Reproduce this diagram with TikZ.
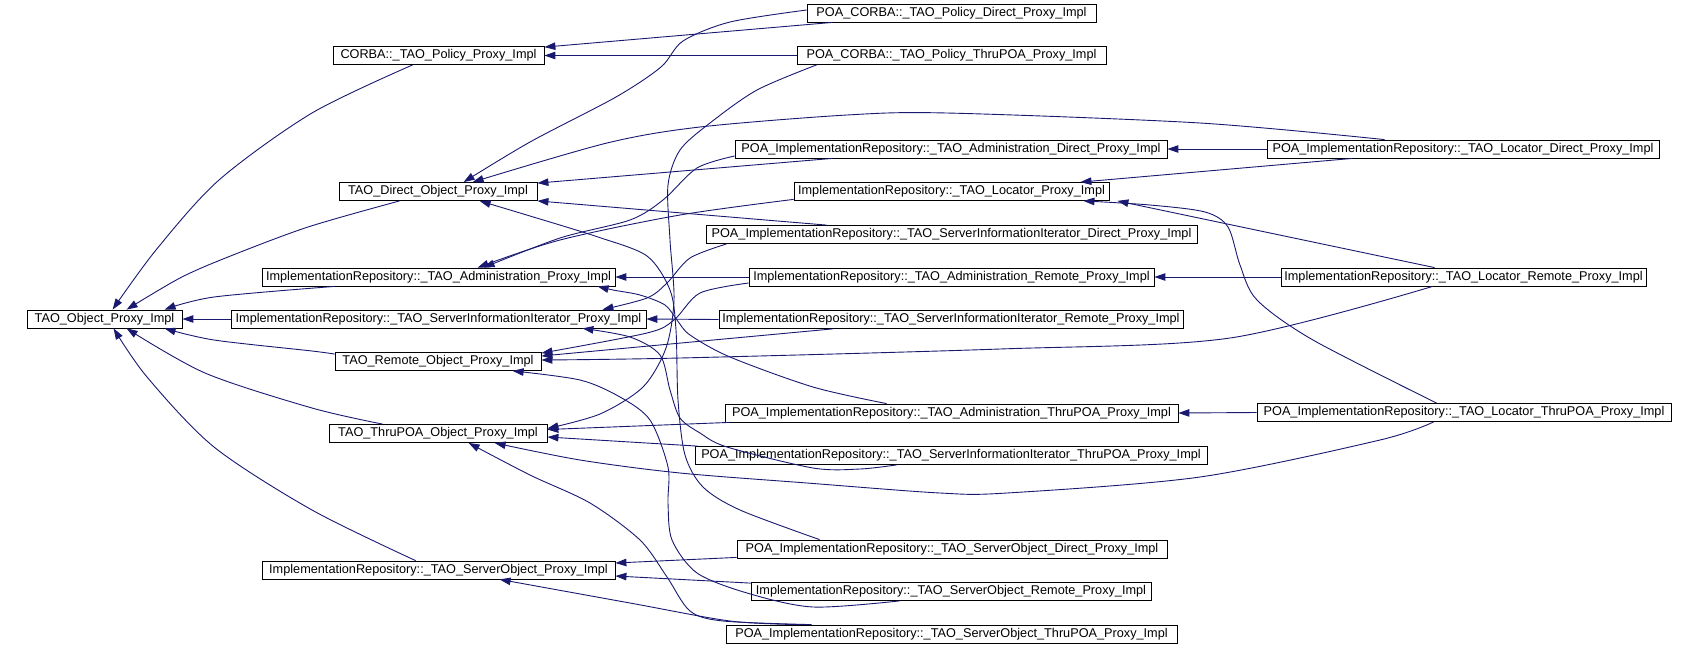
\documentclass[tikz,border=0pt]{standalone}
\usepackage{fontspec}
\setmainfont{Liberation Sans}
\usetikzlibrary{calc,arrows.meta}
\definecolor{edgeblue}{RGB}{25,25,112}
\tikzset{
  box/.style={draw=black, line width=0.8pt, minimum height=18, inner sep=0pt, fill=white,
    font=\fontsize{12.7}{14}\selectfont},
  edge/.style={draw=edgeblue, line width=0.9pt, -{Triangle[length=11pt,width=7.5pt]}},
}
\begin{document}
\begin{tikzpicture}[x=1pt,y=-1pt]
\useasboundingbox (0,0) rectangle (1694,646);
% nodes
\node[box,minimum width=155] (obj) at (104.5,319) {TAO\_Object\_Proxy\_Impl};
\node[box,minimum width=211] (corba) at (438.5,55.5) {CORBA::\_TAO\_Policy\_Proxy\_Impl};
\node[box,minimum width=198] (direct) at (438,191.5) {TAO\_Direct\_Object\_Proxy\_Impl};
\node[box,minimum width=353] (admin) at (438.5,277) {ImplementationRepository::\_TAO\_Administration\_Proxy\_Impl};
\node[box,minimum width=415] (sii) at (438.5,319) {ImplementationRepository::\_TAO\_ServerInformationIterator\_Proxy\_Impl};
\node[box,minimum width=206] (remote) at (438,361.5) {TAO\_Remote\_Object\_Proxy\_Impl};
\node[box,minimum width=218] (thru) at (438,433.5) {TAO\_ThruPOA\_Object\_Proxy\_Impl};
\node[box,minimum width=353] (so) at (438.5,570) {ImplementationRepository::\_TAO\_ServerObject\_Proxy\_Impl};
\node[box,minimum width=289] (pdirect) at (951.5,13) {POA\_CORBA::\_TAO\_Policy\_Direct\_Proxy\_Impl};
\node[box,minimum width=309] (pthru) at (951.5,55.5) {POA\_CORBA::\_TAO\_Policy\_ThruPOA\_Proxy\_Impl};
\node[box,minimum width=432] (adirect) at (951,149) {POA\_ImplementationRepository::\_TAO\_Administration\_Direct\_Proxy\_Impl};
\node[box,minimum width=315] (loc) at (951.5,191.5) {ImplementationRepository::\_TAO\_Locator\_Proxy\_Impl};
\node[box,minimum width=491] (siidirect) at (951.5,234.5) {POA\_ImplementationRepository::\_TAO\_ServerInformationIterator\_Direct\_Proxy\_Impl};
\node[box,minimum width=405] (aremote) at (951.5,277) {ImplementationRepository::\_TAO\_Administration\_Remote\_Proxy\_Impl};
\node[box,minimum width=464] (siiremote) at (951,319.5) {ImplementationRepository::\_TAO\_ServerInformationIterator\_Remote\_Proxy\_Impl};
\node[box,minimum width=453] (athru) at (951.5,413) {POA\_ImplementationRepository::\_TAO\_Administration\_ThruPOA\_Proxy\_Impl};
\node[box,minimum width=512] (siithru) at (951,455.5) {POA\_ImplementationRepository::\_TAO\_ServerInformationIterator\_ThruPOA\_Proxy\_Impl};
\node[box,minimum width=430] (sodirect) at (952,549) {POA\_ImplementationRepository::\_TAO\_ServerObject\_Direct\_Proxy\_Impl};
\node[box,minimum width=400] (soremote) at (951,591.5) {ImplementationRepository::\_TAO\_ServerObject\_Remote\_Proxy\_Impl};
\node[box,minimum width=451] (sothru) at (951.5,634) {POA\_ImplementationRepository::\_TAO\_ServerObject\_ThruPOA\_Proxy\_Impl};
\node[box,minimum width=392] (ldirect) at (1463,149) {POA\_ImplementationRepository::\_TAO\_Locator\_Direct\_Proxy\_Impl};
\node[box,minimum width=365] (lremote) at (1463.5,277) {ImplementationRepository::\_TAO\_Locator\_Remote\_Proxy\_Impl};
\node[box,minimum width=414] (lthru) at (1464,412.5) {POA\_ImplementationRepository::\_TAO\_Locator\_ThruPOA\_Proxy\_Impl};
% edges
\draw[edge] plot[smooth] coordinates {($(corba.south west)+(80,0)$) (312,113) (219,180) (156,250) ($(obj.north west)+(86,0)$)};
\draw[edge] plot[smooth] coordinates {($(direct.south west)+(61,0)$) (308,227) (228,257) (180,278) ($(obj.north west)+(100,0)$)};
\draw[edge] plot[smooth] coordinates {($(admin.south west)+(73,0)$) (214,297) ($(obj.north west)+(138,0)$)};
\draw[edge] (sii.west) -- (obj.east);
\draw[edge] plot[smooth] coordinates {($(remote.north west)+(0,2)$) (312,351) (214,340) ($(obj.south west)+(138,0)$)};
\draw[edge] plot[smooth] coordinates {($(thru.north west)+(54,0)$) (312,408) (205,373) ($(obj.south west)+(100,0)$)};
\draw[edge] plot[smooth] coordinates {($(so.north west)+(154,0)$) (312,510) (214,447) (147,377) ($(obj.south west)+(87,0)$)};
\draw[edge] ($(pdirect.south west)+(26,0)$) -- ($(corba.north east)+(0,1)$);
\draw[edge] (pthru.west) -- (corba.east);
\draw[edge] plot[smooth] coordinates {($(pdirect.west)+(0,-3)$) (730,22) (683,41) (661,67) (616,97) (530,142) ($(direct.north west)+(125,0)$)};
\draw[edge] plot[smooth] coordinates {($(pthru.south west)+(20,0)$) (757,90) (710,123) (680,150) (668,185) (670,240) (674,300) (666,348) (643,387) (600,414) ($(thru.east)+(0,-5)$)};
\draw[edge] ($(adirect.south west)+(98,0)$) -- ($(direct.north east)+(0,1)$);
\draw[edge] plot[smooth] coordinates {($(adirect.west)+(0,7)$) (697,168) (663,200) (630,220) (560,238) ($(admin.north west)+(222,0)$)};
\draw[edge] plot[smooth] coordinates {($(loc.south west)+(0,-1.5)$) (680,215) (560,240) ($(admin.north west)+(216,0)$)};
\draw[edge] plot[smooth] coordinates {($(ldirect.north west)+(118,0)$) (1200,123) (947,113) (847,115) (700,127) (607,143) ($(direct.north west)+(134,0)$)};
\draw[edge] ($(siidirect.north west)+(121,0)$) -- (direct.south east);
\draw[edge] plot[smooth] coordinates {($(siidirect.south west)+(21,0)$) (690,258) (667,283) (647,298) ($(sii.north east)+(-44,0)$)};
\draw[edge] (aremote.west) -- (admin.east);
\draw[edge] plot[smooth] coordinates {($(aremote.west)+(0,6)$) (700,293) (674,320) (647,333) ($(remote.north east)+(0,1)$)};
\draw[edge] (siiremote.west) -- (sii.east);
\draw[edge] ($(siiremote.south west)+(114,0)$) -- ($(remote.east)+(0,-5.5)$);
\draw[edge] plot[smooth] coordinates {($(athru.north west)+(162,0)$) (813,387) (730,357) (690,335) (677,320) (665,305) (640,295) (613,290) ($(admin.south west)+(336,0)$)};
\draw[edge] ($(athru.south west)+(5,0)$) -- ($(thru.east)+(0,-4)$);
\draw[edge] plot[smooth] coordinates {($(siithru.south west)+(202,0)$) (860,469) (813,468) (727,447) (700,433) (680,418) (670,390) (660,355) (630,337) ($(sii.south east)+(-64,0)$)};
\draw[edge] ($(siithru.north west)+(3,0)$) -- ($(thru.east)+(0,3.5)$);
\draw[edge] ($(sodirect.south west)+(0,-1)$) -- ($(so.east)+(0,-7)$);
\draw[edge] plot[smooth] coordinates {($(sodirect.north west)+(83,0)$) (740,510) (703,487) (685,455) (678,400) (676,330) (670,290) (647,256) (598,237) (530,216) ($(direct.south west)+(141,0)$)};
\draw[edge] ($(soremote.north west)+(0,1)$) -- ($(so.east)+(0,6)$);
\draw[edge] plot[smooth] coordinates {($(soremote.south west)+(149,0)$) (813,607) (747,593) (697,573) (672,540) (668,503) (668,467) (650,420) (620,397) (580,380) ($(remote.south west)+(178,0)$)};
\draw[edge] plot[smooth] coordinates {($(sothru.north west)+(74,0)$) (730,621) (630,603) ($(so.south west)+(238,0)$)};
\draw[edge] plot[smooth] coordinates {($(sothru.north west)+(86,0)$) (723,621) (690,611) (667,577) (640,540) (590,503) (530,475) ($(thru.south west)+(140,0)$)};
\draw[edge] (ldirect.west) -- (adirect.east);
\draw[edge] ($(ldirect.south west)+(86,0)$) -- ($(loc.north east)+(-29,0)$);
\draw[edge] (lremote.west) -- (aremote.east);
\draw[edge] ($(lremote.north west)+(154,0)$) -- ($(loc.south east)+(8,0)$);
\draw[edge] plot[smooth] coordinates {($(lremote.south west)+(152,0)$) (1230,338) (1000,349) (680,358) ($(remote.east)+(0,-1.5)$)};
\draw[edge] (lthru.west) -- (athru.east);
\draw[edge] plot[smooth] coordinates {($(lthru.north west)+(180,0)$) (1313,340) (1257,300) (1240,265) (1228,227) (1205,212) (1150,205) ($(loc.south east)+(-26,0)$)};
\draw[edge] plot[smooth] coordinates {($(lthru.south west)+(177,0)$) (1380,440) (1200,477) (1007,493) (940,493) (807,483) (680,473) (580,460) ($(thru.south west)+(166,0)$)};
\end{tikzpicture}
\end{document}
